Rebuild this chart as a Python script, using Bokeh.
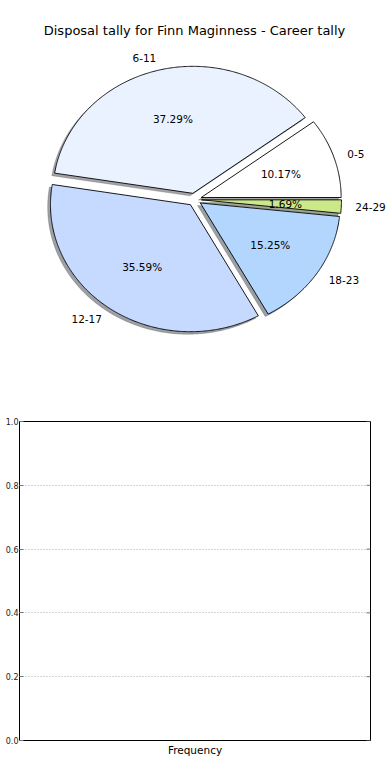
import numpy as np
from bokeh.plotting import figure
from bokeh.models import (Range1d, Label, FixedTicker, ColumnDataSource,
                          PrintfTickFormatter)
from bokeh.core.properties import value
from bokeh.embed import file_html
from bokeh.resources import INLINE

# ---------------- data ----------------
title_text = "Disposal tally for Finn Maginness - Career tally"
categories = ["0-5", "6-11", "12-17", "18-23", "24-29"]
counts = [6, 22, 21, 9, 1]
slice_colors = ["#ffffff", "#eaf2ff", "#c6d9ff", "#b3d6ff", "#cce98a"]
freq_ticks = [0.0, 0.2, 0.4, 0.6, 0.8, 1.0]
freq_label = "Frequency"

# ---------------- layout (page pixels) ----------------
W = 390
H1 = 400
H2 = 378
FL, FR = 19, 20          # borders of the frequency chart
CX, CY, RX, RY = 194.0, 199.0, 140.0, 127.0
EXPLODE = 0.05
SHADOW = 0.02
FONT = "DejaVu Sans"


def px_to_x(px):
    return (px - CX) / RX


def py_to_y(py):
    return (CY - py) / RY


# ---------------- pie ----------------
p1 = figure(width=W, height=H1, output_backend="svg", toolbar_location=None,
            x_range=Range1d(px_to_x(0), px_to_x(W)),
            y_range=Range1d(py_to_y(H1), py_to_y(0)),
            x_axis_location=None, y_axis_location=None, min_border=0)
p1.grid.visible = False
p1.outline_line_color = None
p1.background_fill_color = "white"
p1.border_fill_color = "white"

total = float(sum(counts))
fracs = np.array(counts) / total
starts = 2 * np.pi * np.concatenate([[0.0], np.cumsum(fracs)[:-1]])
ends = starts + 2 * np.pi * fracs
mids = (starts + ends) / 2

xs, ys, sxs, sys_ = [], [], [], []
for s, e, m in zip(starts, ends, mids):
    ox, oy = EXPLODE * np.cos(m), EXPLODE * np.sin(m)
    th = np.linspace(s, e, max(int((e - s) * 120), 6))
    wx = np.concatenate([[ox], ox + np.cos(th), [ox]])
    wy = np.concatenate([[oy], oy + np.sin(th), [oy]])
    xs.append(wx.tolist())
    ys.append(wy.tolist())
    sxs.append((wx - SHADOW).tolist())
    sys_.append((wy - SHADOW).tolist())


def shade(c):
    c = c.lstrip("#")
    r, g, b = (int(c[i:i + 2], 16) for i in (0, 2, 4))
    return "#%02x%02x%02x" % (int(r * 0.3), int(g * 0.3), int(b * 0.3))


shadow_colors = [shade(c) for c in slice_colors]

p1.patches(xs=sxs, ys=sys_, fill_color=shadow_colors, fill_alpha=0.5,
           line_color=shadow_colors, line_alpha=0.5, line_width=0.5)
p1.patches(xs=xs, ys=ys, fill_color=slice_colors, line_color="black",
           line_width=0.9)

lab_r = EXPLODE + 1.1
pct_r = EXPLODE + 0.6
lab_src = ColumnDataSource(dict(
    x=(lab_r * np.cos(mids)).tolist(),
    y=(lab_r * np.sin(mids)).tolist(),
    text=categories,
    align=["left" if np.cos(m) > 0 else "right" for m in mids],
))
pct_src = ColumnDataSource(dict(
    x=(pct_r * np.cos(mids)).tolist(),
    y=(pct_r * np.sin(mids)).tolist(),
    text=["%1.2f%%" % (f * 100) for f in fracs],
))
p1.text(x="x", y="y", text="text", source=lab_src, text_align="align",
        text_baseline="middle", text_font=value(FONT),
        text_font_size="10.5px", text_color="black")
p1.text(x="x", y="y", text="text", source=pct_src, text_align="center",
        text_baseline="middle", text_font=value(FONT),
        text_font_size="10.5px", text_color="black")

p1.add_layout(Label(x=px_to_x(194), y=py_to_y(30), text=title_text,
                    text_align="center", text_baseline="middle",
                    text_font=FONT, text_font_size="13px",
                    text_color="black"))

# ---------------- empty frequency chart ----------------
p2 = figure(width=W, height=H2, output_backend="svg", toolbar_location=None,
            x_range=Range1d(0, 1), y_range=Range1d(0, 1),
            min_border_top=21, min_border_bottom=38, min_border_left=FL,
            min_border_right=FR)
p2.background_fill_color = "white"
p2.outline_line_color = "black"
p2.outline_line_width = 1
p2.outline_line_alpha = 1.0

p2.xaxis.ticker = FixedTicker(ticks=[])
p2.xaxis.axis_label = freq_label
p2.xaxis.axis_label_text_font = FONT
p2.xaxis.axis_label_text_font_size = "10.5px"
p2.xaxis.axis_label_text_font_style = "normal"
p2.xaxis.axis_label_text_color = "black"
p2.xaxis.axis_label_standoff = 3
p2.xaxis.axis_line_color = None
p2.xaxis.major_tick_line_color = None
p2.xaxis.minor_tick_line_color = None
p2.xaxis.major_label_standoff = 0

p2.yaxis.ticker = FixedTicker(ticks=freq_ticks)
p2.yaxis.formatter = PrintfTickFormatter(format="%.1f")
p2.yaxis.major_label_text_font = FONT
p2.yaxis.major_label_text_font_size = "8px"
p2.yaxis.major_label_text_color = "#222222"
p2.yaxis.major_label_standoff = 1
p2.yaxis.major_tick_in = 4
p2.yaxis.major_tick_out = 0
p2.yaxis.major_tick_line_color = "#777777"
p2.yaxis.minor_tick_line_color = None
p2.yaxis.axis_line_color = None

# right-side inner tick marks (matplotlib draws ticks on both sides)
tick_len = 4.0 / (W - FL - FR)
p2.segment(x0=[1.0] * len(freq_ticks), y0=freq_ticks,
           x1=[1.0 - tick_len] * len(freq_ticks), y1=freq_ticks,
           line_color="#777777", line_width=1)

p2.xgrid.visible = False
p2.ygrid.ticker = FixedTicker(ticks=freq_ticks)
p2.ygrid.grid_line_color = "#aaaaaa"
p2.ygrid.grid_line_dash = "1 2"
p2.ygrid.grid_line_width = 1

# two independent roots stacked on the page (no frame alignment)
open("out.html", "w").write(file_html([p1, p2], INLINE))
